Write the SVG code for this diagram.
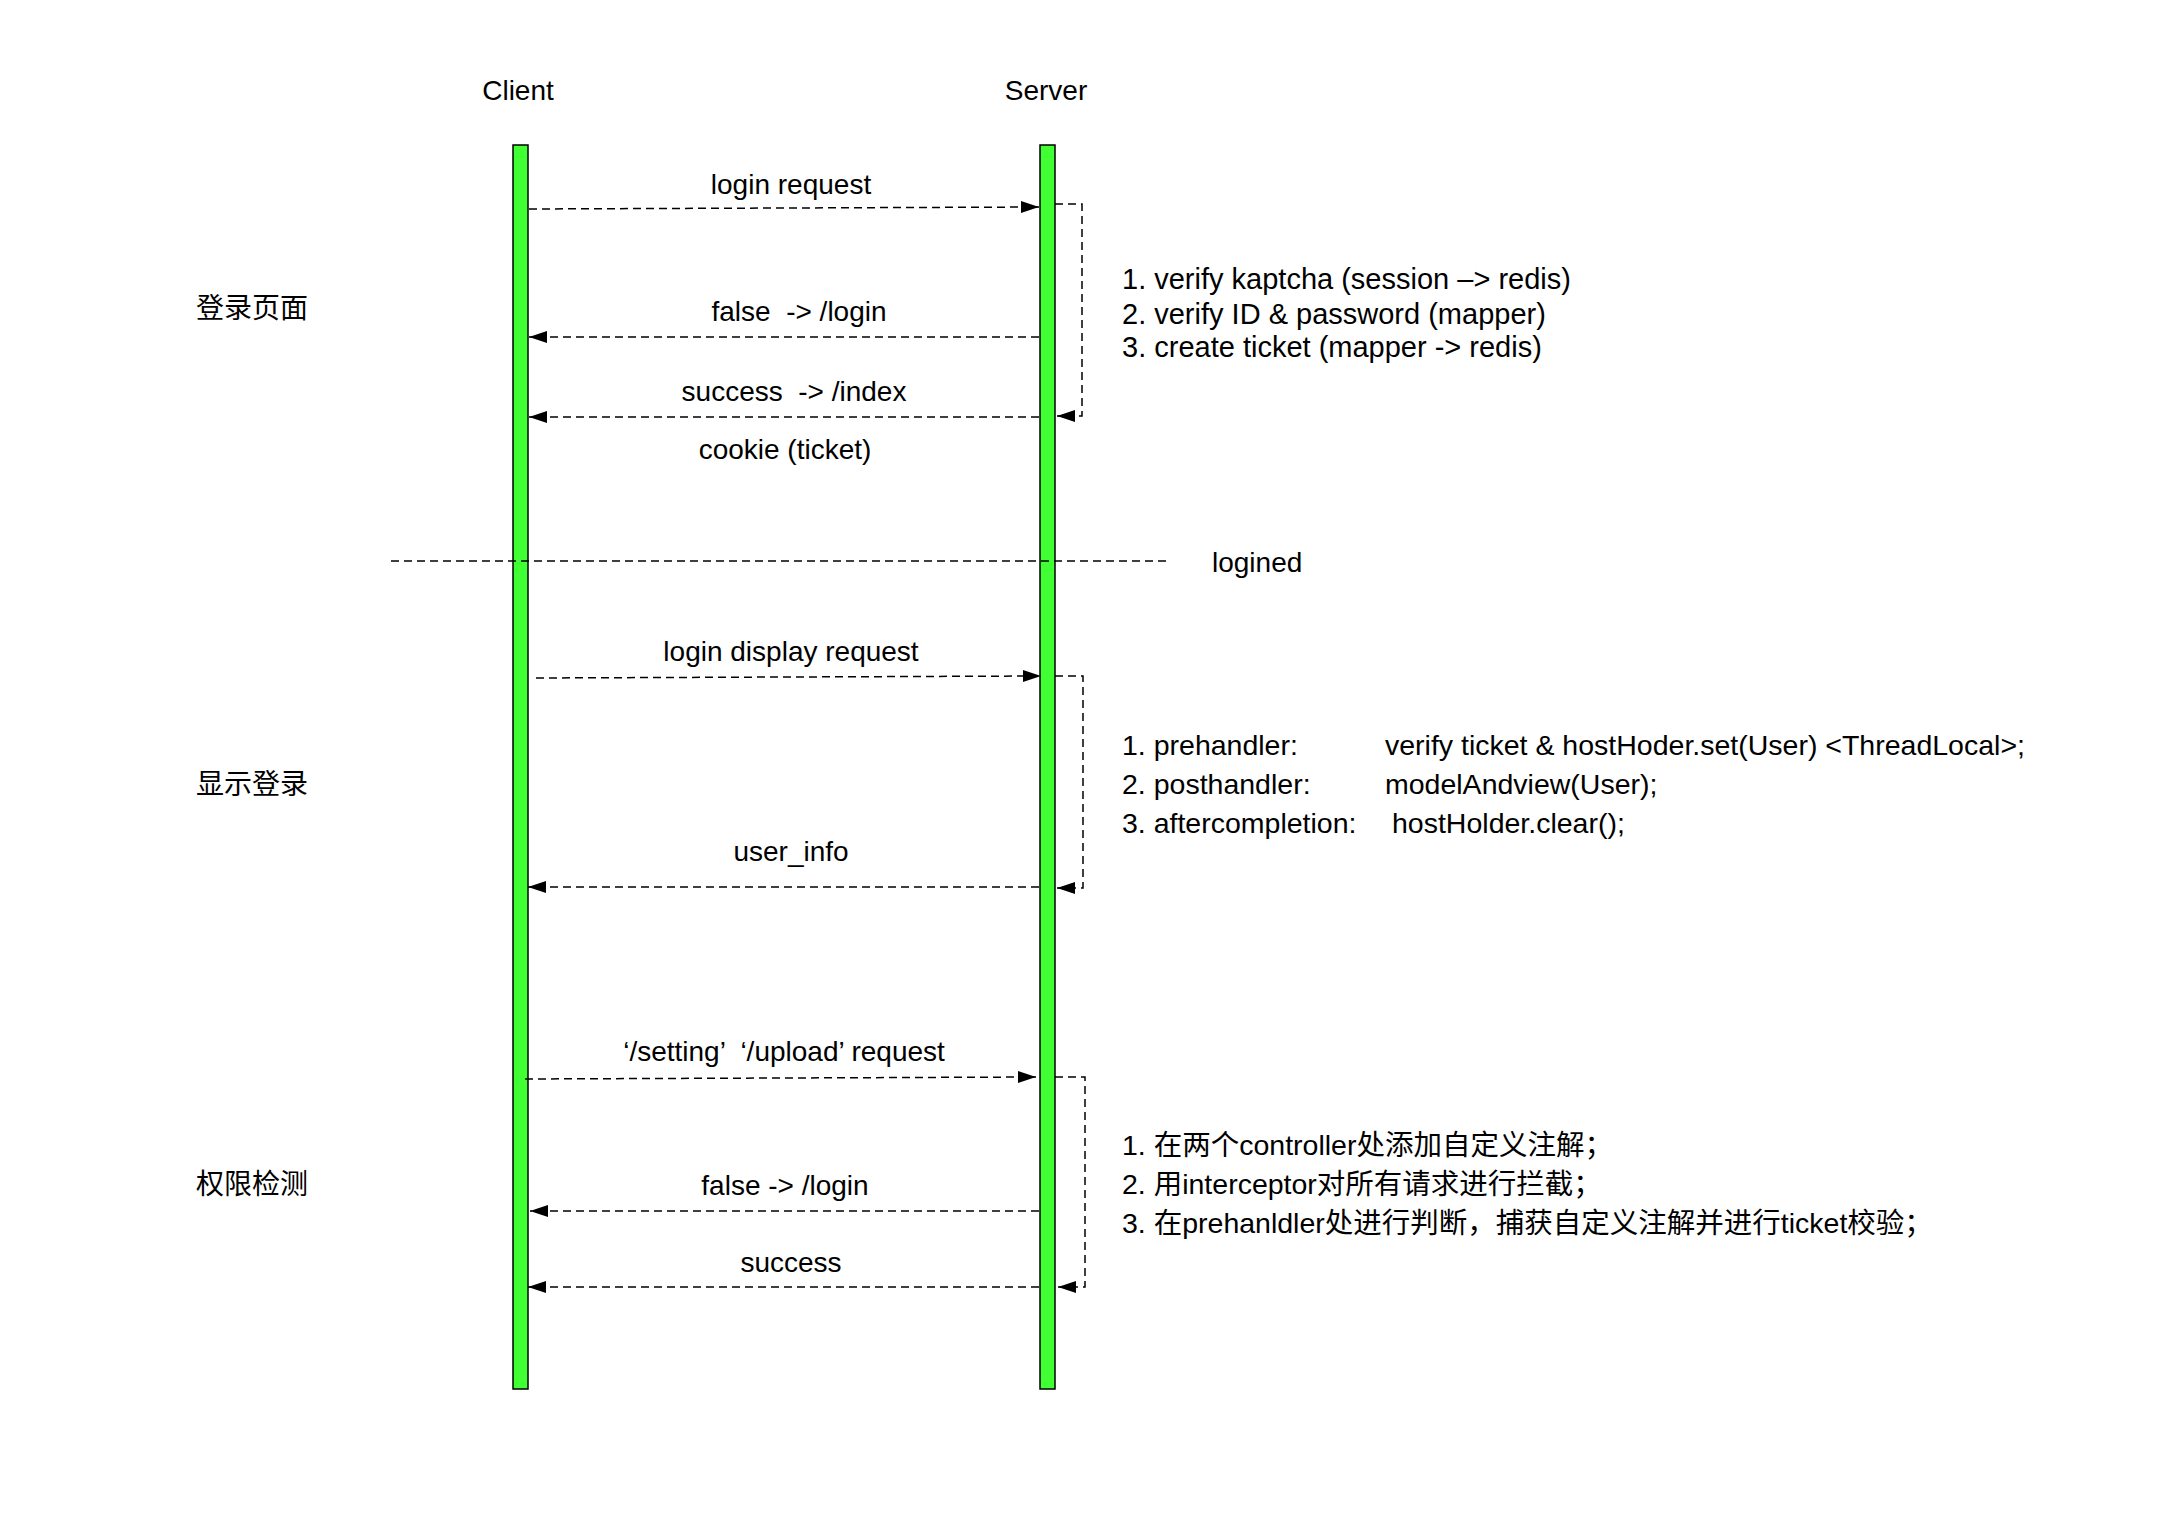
<svg xmlns="http://www.w3.org/2000/svg" width="2176" height="1520" viewBox="0 0 2176 1520">
<style>
text{font-family:"Liberation Sans","Noto Sans CJK SC",sans-serif;font-size:28px;fill:#000;white-space:pre}
.c{text-anchor:middle}
.cjk{font-family:"Noto Sans CJK SC",sans-serif;font-size:28px}
.n1{font-size:29px}
.n2{font-size:28.5px}
.n3{font-size:28.5px}
.bar{fill:#40FF33;stroke:#000;stroke-width:1.5}
.msg{fill:none;stroke:#000;stroke-width:1.5;stroke-dasharray:8 5}
.msg-a{fill:none;stroke:#000;stroke-width:1.5;stroke-dasharray:8 5;marker-end:url(#ah)}
</style>
<defs>
<marker id="ah" markerUnits="userSpaceOnUse" markerWidth="20" markerHeight="14" refX="18" refY="7" orient="auto">
<path d="M0,1 L18,7 L0,13 z" fill="#000" stroke="none"/>
</marker>
</defs>
<rect width="2176" height="1520" fill="#fff"/>
<g id="client">
<text class="c" x="518" y="100">Client</text>
<rect class="bar" x="513" y="145" width="15" height="1244"/>
</g>
<g id="server">
<text class="c" x="1046" y="100">Server</text>
<rect class="bar" x="1040" y="145" width="15" height="1244"/>
</g>
<g id="section-login">
<text class="cjk c" x="252" y="318">登录页面</text>
</g>
<g id="section-display">
<text class="cjk c" x="252" y="794">显示登录</text>
</g>
<g id="section-auth">
<text class="cjk c" x="252" y="1194">权限检测</text>
</g>
<g id="note-login">
<text class="n1" x="1122" y="289">1. verify kaptcha (session –&gt; redis)</text>
<text class="n1" x="1122" y="324">2. verify ID &amp; password (mapper)</text>
<text class="n1" x="1122" y="357">3. create ticket (mapper -&gt; redis)</text>
</g>
<g id="note-display">
<text class="n2" x="1122" y="755">1. prehandler:</text>
<text class="n2" x="1385" y="755">verify ticket &amp; hostHoder.set(User) &lt;ThreadLocal&gt;;</text>
<text class="n2" x="1122" y="794">2. posthandler:</text>
<text class="n2" x="1385" y="794">modelAndview(User);</text>
<text class="n2" x="1122" y="833">3. aftercompletion:</text>
<text class="n2" x="1392" y="833">hostHolder.clear();</text>
</g>
<g id="note-auth">
<text class="n3" x="1122" y="1155">1. 在两个controller处添加自定义注解；</text>
<text class="n3" x="1122" y="1194">2. 用interceptor对所有请求进行拦截；</text>
<text class="n3" x="1122" y="1233">3. 在prehanldler处进行判断，捕获自定义注解并进行ticket校验；</text>
</g>
<g id="logined">
<line class="msg" x1="391" y1="561" x2="1168" y2="561"/>
<text x="1212" y="572">logined</text>
</g>
<g id="connectors">
<path class="msg-a" d="M529,209 L1039,207"/>
<path class="msg-a" d="M1055,204 H1082 V416 H1057"/>
<path class="msg-a" d="M1039,337 H529"/>
<path class="msg-a" d="M1039,417 H529"/>
<path class="msg-a" d="M536,678 L1041,676"/>
<path class="msg-a" d="M1055,676 H1083 V888 H1057"/>
<path class="msg-a" d="M1039,887 H528"/>
<path class="msg-a" d="M525,1079 L1036,1077"/>
<path class="msg-a" d="M1055,1077 H1085 V1287 H1058"/>
<path class="msg-a" d="M1039,1211 H530"/>
<path class="msg-a" d="M1039,1287 H528"/>
</g>
<g id="labels">
<text class="c" x="791" y="194">login request</text>
<text class="c" x="799" y="321">false  -&gt; /login</text>
<text class="c" x="794" y="401">success  -&gt; /index</text>
<text class="c" x="785" y="459">cookie (ticket)</text>
<text class="c" x="791" y="661">login display request</text>
<text class="c" x="791" y="861">user_info</text>
<text class="c" x="784" y="1061">‘/setting’  ‘/upload’ request</text>
<text class="c" x="785" y="1195">false -&gt; /login</text>
<text class="c" x="791" y="1272">success</text>
</g>
</svg>
